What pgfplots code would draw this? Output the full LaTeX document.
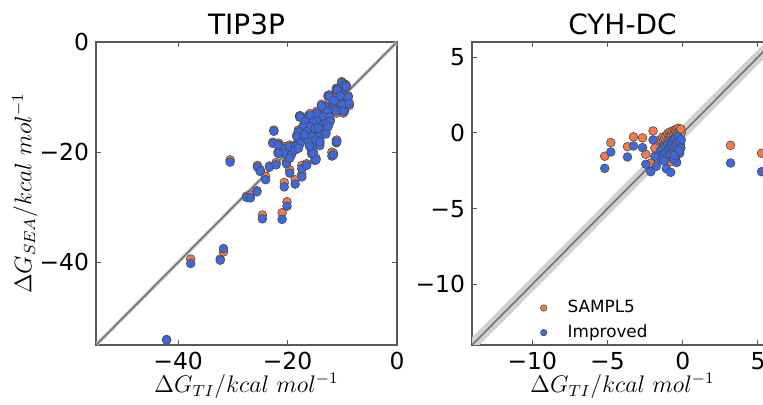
\documentclass[border=0pt]{standalone}
\usepackage[no-math]{fontspec}
\setmainfont{DejaVu Sans}
\usepackage{pgfplots}
\usepackage{pgfplotstable}
\pgfplotsset{compat=1.18}
\definecolor{sorange}{RGB}{242,122,72}
\definecolor{iblue}{RGB}{62,104,224}

% TIP3P: x = Delta G_TI, s = SAMPL5, i = Improved
\pgfplotstableread{
x s i
-42.1 -54.0 -54.1
-37.7 -39.4 -40.2
-32.3 -39.4 -39.6
-31.7 -38.1 -37.5
-30.5 -21.4 -21.8
-27.5 -28.0 -28.2
-26.8 -27.8 -28.3
-25.6 -27.0 -27.2
-25.5 -22.4 -22.7
-25.0 -23.2 -23.5
-24.6 -31.4 -32.1
-24.0 -24.4 -25.0
-23.3 -22.5 -22.7
-22.7 -18.2 -18.4
-22.5 -16.0 -16.2
-22.1 -21.9 -22.3
-21.7 -20.0 -20.2
-21.6 -18.4 -18.7
-21.0 -31.0 -32.2
-20.6 -25.5 -26.3
-20.2 -19.4 -19.6
-20.2 -21.8 -22.1
-20.1 -29.0 -29.8
-19.6 -23.2 -23.8
-19.6 -20.6 -20.9
-19.3 -19.2 -19.5
-18.6 -25.0 -25.8
-18.4 -18.6 -18.8
-17.8 -13.4 -13.6
-18.0 -16.0 -16.9
-17.4 -22.4 -23.0
-17.4 -24.0 -24.5
-16.8 -15.2 -15.4
-16.5 -22.1 -22.4
-16.5 -17.5 -17.8
-16.2 -13.4 -13.6
-15.6 -19.8 -20.3
-15.6 -16.4 -16.7
-15.0 -21.0 -21.5
-15.0 -13.4 -13.6
-14.7 -17.0 -17.3
-14.1 -15.2 -15.4
-14.1 -18.4 -18.8
-13.6 -13.0 -13.3
-13.2 -11.5 -11.7
-12.6 -9.7 -9.9
-11.9 -20.0 -20.7
-11.7 -10.9 -11.1
-11.4 -11.8 -12.1
-11.1 -8.4 -8.7
-11.1 -17.9 -18.3
-10.8 -10.3 -10.6
-10.1 -7.2 -7.4
-9.6 -7.6 -7.8
-9.3 -7.8 -8.1
-9.0 -10.8 -10.5
-9.6 -12.6 -12.3
-9.9 -9.2 -9.5
-12.4 -9.6 -9.8
-10.9 -8.5 -8.7
-10.4 -9.5 -9.8
-8.9 -9.8 -10.0
-11.5 -10.3 -10.6
-10.1 -11.0 -11.3
-8.7 -11.5 -11.2
-13.8 -11.3 -11.6
-12.7 -12.3 -12.6
-11.1 -12.9 -12.5
-9.8 -12.9 -12.6
-14.7 -12.6 -12.9
-13.5 -13.3 -13.6
-12.3 -13.3 -13.6
-17.7 -13.4 -13.6
-15.9 -13.0 -13.3
-14.7 -13.9 -14.2
-16.8 -14.2 -14.5
-15.4 -14.3 -14.6
-13.4 -14.7 -14.9
-12.8 -15.0 -14.7
-12.2 -14.1 -14.4
-17.1 -15.1 -15.4
-15.9 -15.1 -15.4
-15.0 -15.4 -15.7
-13.8 -15.7 -16.0
-12.6 -15.1 -15.4
-18.0 -16.0 -16.3
-16.5 -16.0 -16.3
-15.6 -16.9 -17.2
-14.4 -16.9 -17.2
-18.3 -16.9 -17.2
-17.1 -17.2 -17.5
-16.2 -17.8 -18.1
-14.8 -17.5 -17.8
-14.1 -17.8 -18.1
-17.7 -18.1 -18.4
-15.6 -18.7 -19.0
-15.3 -19.9 -20.2
-14.8 -21.1 -21.4
-11.0 -17.8 -18.1
-11.6 -20.2 -20.5
-21.7 -18.4 -18.7
-20.5 -19.0 -19.3
-19.6 -18.7 -19.0
-18.6 -18.7 -19.0
-20.5 -19.9 -20.2
-19.3 -20.2 -20.5
-19.6 -20.8 -21.1
-21.7 -19.9 -20.2
-18.6 -19.3 -19.6
-18.0 -19.0 -19.3
-16.0 -18.6 -18.9
-13.0 -16.4 -16.7
-14.4 -15.9 -15.6
-16.9 -16.6 -16.8
}\tipdata

% CYH-DC
\pgfplotstableread{
x s i
-5.18 -1.54 -2.34
-4.78 -0.64 -1.26
-3.67 -0.91 -1.59
-3.27 -0.26 -0.86
-2.67 -0.33 -0.97
-2.45 -1.41 -2.07
-1.97 0.13 -0.46
-2.12 -1.99 -2.56
-1.75 -1.45 -2.20
-1.09 -1.55 -2.36
-0.80 -1.90 -2.60
-0.40 -1.30 -1.95
3.18 -0.82 -1.99
5.24 -1.34 -2.56
-1.64 -0.90 -1.50
-1.50 -0.45 -1.20
-1.35 -0.29 -1.00
-1.30 -0.60 -1.45
-1.20 -0.35 -0.85
-1.10 -0.20 -1.30
-1.00 -0.05 -0.75
-0.95 -0.45 -1.60
-0.90 -0.15 -1.10
-0.85 0.05 -0.55
-0.80 -0.30 -1.40
-0.75 -0.10 -0.90
-0.70 0.10 -0.60
-0.65 -0.40 -1.25
-0.60 -0.05 -0.45
-0.55 0.15 -0.95
-0.50 0.20 -0.35
-0.45 -0.20 -1.55
-0.40 0.25 -0.70
-0.35 0.05 -1.10
-0.30 0.30 -0.25
-0.25 0.10 -0.55
-0.20 -0.05 -1.35
-0.15 0.20 -0.80
-0.10 0.00 -0.45
-0.12 0.25 -1.00
-1.45 -1.10 -1.70
-1.25 -0.80 -1.85
-0.60 -0.70 -1.75
-1.85 -1.00 -1.55
-0.25 -0.50 -1.20
-0.55 -0.60 -1.50
}\cyhdata

\pgfplotsset{
  panel/.style={
    scale only axis, width=150.5pt, height=151.5pt,
    anchor=south west,
    axis line style={black!65, line width=0.8pt},
    tick style={black!65, line width=0.5pt},
    major tick length=2.5pt,
    tick align=inside,
    tick label style={font=\fontsize{11.7}{13}\selectfont, black},
    title style={font=\fontsize{14}{16}\selectfont, yshift=-6pt},
    label style={font=\fontsize{11.5}{14}\selectfont},
    xlabel={$\Delta G_{TI}/kcal\ mol^{-1}$},
    xlabel style={at={(axis description cs:0.5,-0.135)}, anchor=center},
    clip=true,
  },
  sam/.style={only marks, mark=*, mark size=2.2pt, mark options={fill=sorange, draw=black!70, line width=0.3pt}},
  imp/.style={only marks, mark=*, mark size=2.2pt, mark options={fill=iblue, draw=black!70, line width=0.3pt}},
}

\begin{document}
\begin{tikzpicture}
\begin{axis}[panel, at={(48pt,30pt)},
  title={TIP3P},
  xmin=-55, xmax=0, ymin=-55, ymax=0,
  xtick={-40,-20,0}, xticklabels={−40,−20,0},
  ytick={-40,-20,0}, yticklabels={−40,−20,0},
  ylabel={$\Delta G_{SEA}/kcal\ mol^{-1}$},
  ylabel style={at={(axis description cs:-0.236,0.5)}, anchor=center},
]
\addplot[fill=black!18, draw=none] coordinates {(-60,-60.5) (10,9.5) (10,10.5) (-60,-59.5)} -- cycle;
\addplot[black!55, line width=0.8pt] coordinates {(-60,-60) (10,10)};
\addplot[sam] table[x=x, y=s] {\tipdata};
\addplot[imp] table[x=x, y=i] {\tipdata};
\end{axis}

\begin{axis}[panel, at={(236pt,30pt)},
  title={CYH-DC},
  xmin=-14, xmax=6, ymin=-14, ymax=6,
  xtick={-10,-5,0,5}, xticklabels={−10,−5,0,5},
  ytick={-10,-5,0,5}, yticklabels={−10,−5,0,5},
  legend style={at={(0.197,-0.013)}, anchor=south west, draw=none, fill=none,
    font=\fontsize{8.4}{9}\selectfont, row sep=0.5pt},
  legend cell align=left,
  legend image code/.code={\path[draw=none, fill=none] (0pt,0pt) rectangle (13pt,0.1pt);
    \draw[#1, mark size=1.6pt] plot[only marks] coordinates {(3pt,0pt)};},
]
\addplot[fill=black!18, draw=none, forget plot] coordinates {(-20,-20.5) (10,9.5) (10,10.5) (-20,-19.5)} -- cycle;
\addplot[black!55, line width=0.8pt, forget plot] coordinates {(-20,-20) (10,10)};
\addplot[sam] table[x=x, y=s] {\cyhdata};
\addlegendentry{SAMPL5}
\addplot[imp] table[x=x, y=i] {\cyhdata};
\addlegendentry{Improved}
\end{axis}
\pgfresetboundingbox
\path[use as bounding box] (0,0) rectangle (381.5pt,202.5pt);
\end{tikzpicture}
\end{document}
